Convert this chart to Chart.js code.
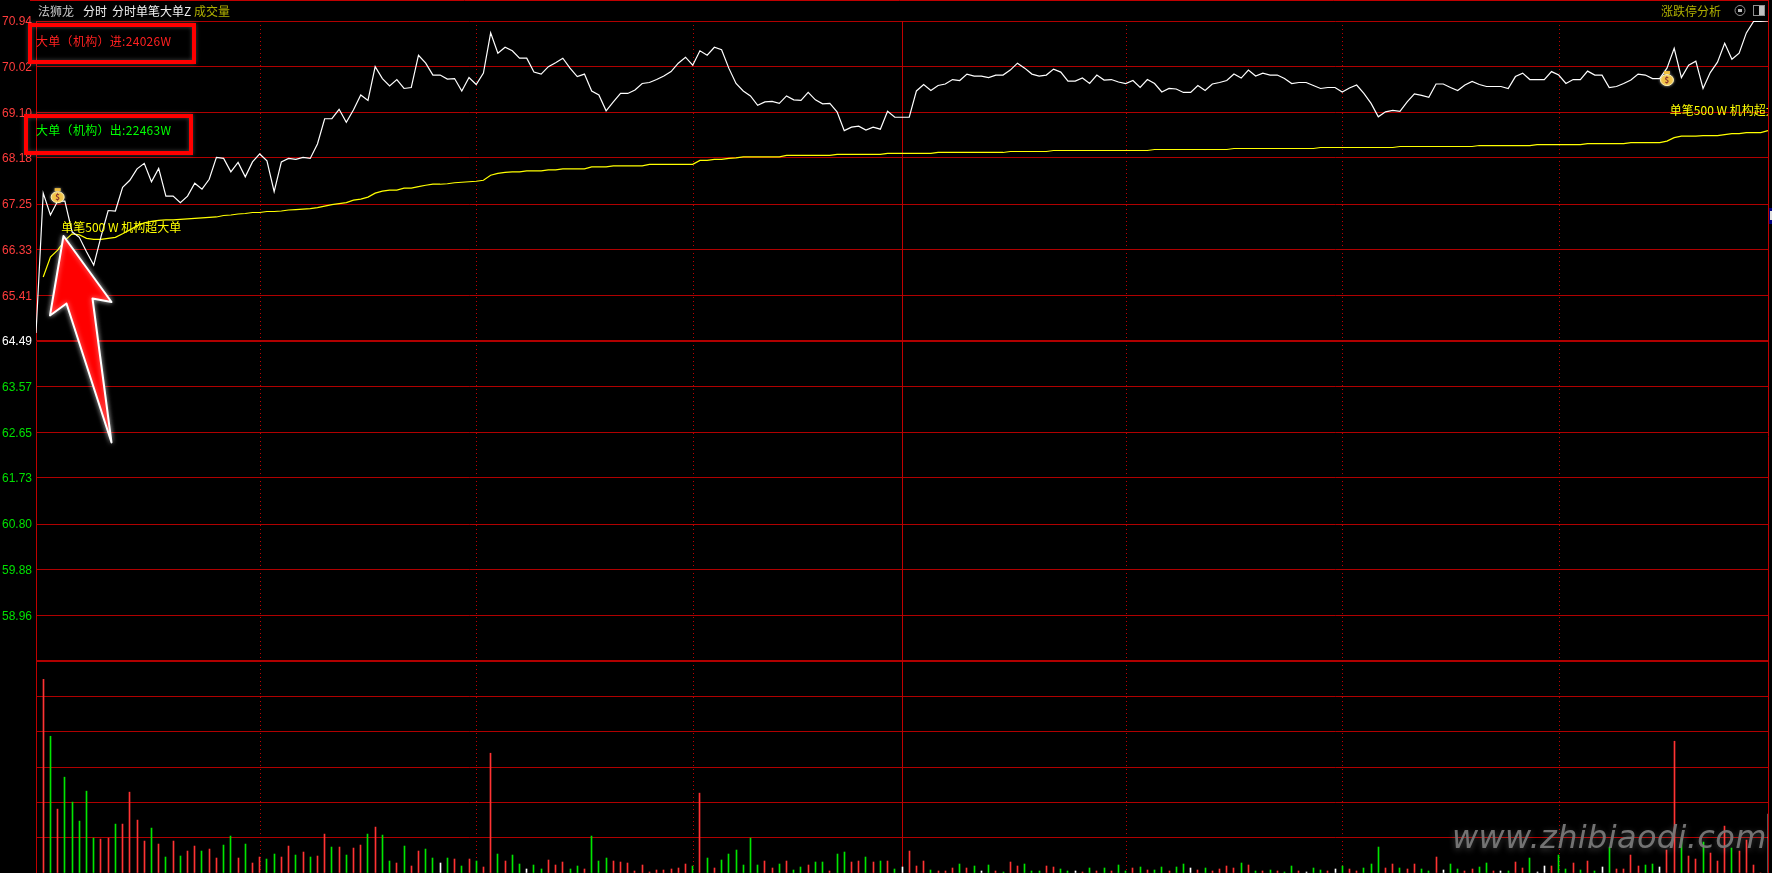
<!DOCTYPE html>
<html>
<head>
<meta charset="utf-8">
<title>法狮龙 分时</title>
<script src="https://cdn.jsdelivr.net/npm/chart.js@4/dist/chart.umd.min.js"></script>
<style>
  html, body { margin: 0; padding: 0; background: #000; overflow: hidden; }
  #box { width: 1772px; height: 873px; }
</style>
</head>
<body>
<div id="box"><canvas id="chartFenshi"></canvas></div>
<script>
// price line, one value per minute, index 0..240
const priceLine = [
  64.65,67.47,67.03,67.31,67.31,66.69,66.58,66.29,66.02,66.59,
  67.12,67.11,67.59,67.73,67.96,68.07,67.70,67.97,67.41,67.41,
  67.28,67.41,67.67,67.55,67.75,68.19,68.17,67.90,68.09,67.80,
  68.10,68.26,68.12,67.50,68.10,68.17,68.15,68.19,68.17,68.46,
  68.97,68.97,69.16,68.90,69.15,69.45,69.34,70.02,69.78,69.63,
  69.76,69.58,69.60,70.25,70.09,69.85,69.85,69.77,69.78,69.53,
  69.80,69.66,69.89,70.70,70.29,70.41,70.34,70.19,70.19,69.91,
  69.87,70.02,70.10,70.19,69.99,69.82,69.87,69.53,69.45,69.13,
  69.31,69.48,69.48,69.55,69.68,69.70,69.76,69.83,69.92,70.09,
  70.21,70.05,70.34,70.25,70.41,70.36,69.99,69.68,69.53,69.43,
  69.24,69.31,69.32,69.28,69.43,69.35,69.34,69.50,69.35,69.27,
  69.28,69.11,68.73,68.80,68.82,68.74,68.80,68.76,69.12,69.00,
  69.00,69.00,69.53,69.66,69.54,69.64,69.67,69.76,69.74,69.87,
  69.83,69.83,69.80,69.85,69.85,69.95,70.09,69.99,69.87,69.83,
  69.85,69.97,69.91,69.73,69.73,69.79,69.68,69.85,69.75,69.76,
  69.71,69.68,69.74,69.60,69.76,69.68,69.51,69.58,69.57,69.50,
  69.50,69.64,69.54,69.67,69.70,69.74,69.87,69.79,69.95,69.83,
  69.89,69.85,69.85,69.78,69.68,69.70,69.70,69.64,69.58,69.60,
  69.60,69.51,69.59,69.65,69.48,69.28,69.01,69.11,69.14,69.12,
  69.31,69.47,69.44,69.40,69.67,69.67,69.60,69.54,69.65,69.72,
  69.66,69.62,69.62,69.62,69.58,69.82,69.89,69.76,69.76,69.76,
  69.92,69.85,69.68,69.76,69.76,69.93,69.85,69.85,69.60,69.62,
  69.68,69.75,69.87,69.85,69.78,69.78,69.99,70.39,69.80,70.05,
  70.13,69.58,69.90,70.11,70.49,70.17,70.29,70.70,70.93,70.93,
  70.94
];

// average line starts one minute later, so index 0 is empty
const avgLine = [
  null,65.78,66.18,66.32,66.52,66.65,66.63,66.56,66.54,66.54,
  66.56,66.58,66.65,66.73,66.81,66.87,66.90,66.92,66.93,66.93,
  66.94,66.95,66.96,66.97,66.98,66.99,67.02,67.03,67.05,67.06,
  67.08,67.08,67.10,67.10,67.11,67.13,67.14,67.15,67.16,67.18,
  67.21,67.24,67.26,67.28,67.33,67.35,67.39,67.47,67.51,67.53,
  67.53,67.57,67.57,67.60,67.63,67.65,67.65,67.66,67.68,67.69,
  67.70,67.71,67.73,67.83,67.87,67.89,67.90,67.90,67.92,67.92,
  67.92,67.94,67.94,67.96,67.96,67.96,67.96,68.00,68.00,68.00,
  68.02,68.02,68.02,68.02,68.02,68.05,68.05,68.05,68.05,68.05,
  68.05,68.05,68.13,68.13,68.15,68.15,68.17,68.18,68.20,68.20,
  68.20,68.20,68.20,68.20,68.23,68.23,68.23,68.23,68.23,68.23,
  68.23,68.25,68.25,68.25,68.25,68.25,68.25,68.25,68.27,68.27,
  68.27,68.27,68.27,68.27,68.27,68.29,68.29,68.29,68.29,68.29,
  68.29,68.29,68.29,68.29,68.29,68.31,68.31,68.31,68.31,68.31,
  68.31,68.33,68.33,68.33,68.33,68.33,68.33,68.33,68.33,68.33,
  68.33,68.33,68.33,68.33,68.33,68.35,68.35,68.35,68.35,68.35,
  68.35,68.35,68.35,68.35,68.35,68.35,68.37,68.37,68.37,68.37,
  68.37,68.37,68.37,68.37,68.37,68.37,68.37,68.37,68.39,68.39,
  68.39,68.39,68.39,68.39,68.39,68.39,68.39,68.39,68.39,68.41,
  68.41,68.41,68.41,68.41,68.41,68.41,68.41,68.41,68.41,68.41,
  68.43,68.43,68.43,68.43,68.43,68.43,68.43,68.43,68.45,68.45,
  68.45,68.45,68.45,68.45,68.45,68.47,68.47,68.47,68.47,68.47,
  68.47,68.49,68.49,68.49,68.49,68.49,68.52,68.59,68.62,68.62,
  68.62,68.63,68.63,68.63,68.65,68.67,68.67,68.69,68.69,68.69,
  68.73
];

// volume in axis units (no labels on this axis), index 1..240
const volumes = [
  194,137,64,96,71,52,82,35,34,35,49,49,81,53,32,45,29,16,32,17,
  22,27,22,24,15,28,37,15,29,10,16,14,19,16,27,18,21,16,17,39,
  26,26,18,25,28,39,46,38,12,10,27,7,22,24,15,10,15,14,7,14,
  12,6,120,19,12,18,9,4,8,4,13,8,11,4,7,4,37,12,15,12,
  11,10,2,8,1,3,3,4,5,9,7,80,15,5,13,19,23,8,35,8,
  12,5,9,12,3,6,8,11,11,2,19,21,11,12,16,11,12,12,4,6,
  22,7,12,3,2,2,5,9,5,7,2,8,2,1,11,7,9,2,2,7,
  6,4,2,2,1,5,2,5,2,8,2,5,6,3,3,6,2,6,9,5,
  3,5,2,4,7,5,10,8,2,2,3,2,1,7,2,1,5,3,2,4,
  7,4,2,5,9,26,5,9,5,4,9,4,2,16,3,9,4,2,4,6,
  10,2,2,2,11,5,15,1,7,7,18,4,10,3,12,2,6,26,4,4,
  18,7,8,9,6,23,132,35,17,14,31,20,12,47,25,22,33,8,0,59
];
// u = up (red), d = down (green), f = flat (white)
const volMoves = [
  "u","d","u","d","d","d","d","d","u","u","d","u","u","u","u","d","u","d","u","d",
  "u","u","d","u","u","d","d","u","d","u","u","d","d","u","u","d","u","d","u","u",
  "d","u","d","u","u","d","u","d","d","u","d","u","u","d","d","f","d","u","d","u",
  "d","u","u","d","u","d","d","f","d","d","u","u","u","d","d","u","d","d","d","u",
  "u","u","u","u","u","u","u","u","u","u","d","u","d","u","d","d","d","d","d","d",
  "u","u","d","u","d","d","u","d","d","u","d","d","u","u","d","u","d","u","d","f",
  "u","u","u","d","u","u","u","d","u","d","f","d","u","d","u","u","d","d","d","u",
  "u","d","d","f","u","d","u","d","u","d","d","u","d","u","d","d","u","d","d","f",
  "u","d","u","u","u","u","d","u","d","u","d","u","d","d","u","f","d","d","u","f",
  "d","u","u","d","d","d","u","u","d","u","u","d","d","u","f","d","d","u","u","d",
  "d","u","f","d","u","u","d","f","f","u","d","d","u","d","u","d","f","d","u","u",
  "u","u","d","d","f","u","u","d","u","u","d","u","u","u","d","u","u","u","u","f"
];

// y axis tick labels
const priceTicks = [70.94,70.02,69.10,68.18,67.25,66.33,65.41,64.49,63.57,62.65,61.73,60.80,59.88,58.96,58.04];
const preClose = 64.49;
const priceBottom = 58.04;
const volTicks = [0,35.4,70.8,106.2,141.6,177,212.4];

// session lines on the minute axis
const halfHourLines = [31,61,91,151,181,211];
const lunchLine = 120;

// money bag markers and signal labels
const bagMinutes = [3,226];
const bagPrices = [67.43,69.79];
const signalText = "单笔500 W 机构超大单";
const signalMinutes = [3.5,226.4];
const signalPrices = [66.77,69.14];

const inLabel = "大单（机构）进:24026W";
const outLabel = "大单（机构）出:22463W";

const RED = "#ff3333", GREEN = "#00e600", WHITE = "#ffffff", YELLOW = "#ffff00";
const OLIVE = "#b0b000", GRID = "#b00000", EDGE = "#c00000";
const CJK = '"Noto Sans CJK SC", "Liberation Sans", sans-serif';

const volPoints = volumes.map((v, i) => ({ x: i + 1, y: v }));
const volColors = volMoves.map(m => m === "u" ? RED : m === "d" ? GREEN : WHITE);

function drawBag(ctx, x, y) {
  ctx.save();
  ctx.shadowColor = "rgba(255,255,255,0.55)";
  ctx.shadowBlur = 3;
  ctx.fillStyle = "#f0c040";
  ctx.strokeStyle = "#fff2b0";
  ctx.lineWidth = 1;
  ctx.beginPath();
  ctx.ellipse(x, y + 2, 6.5, 5.5, 0, 0, Math.PI * 2);
  ctx.fill();
  ctx.stroke();
  ctx.fillRect(x - 3, y - 7, 6, 3);
  ctx.shadowBlur = 0;
  ctx.fillStyle = "#8a2f2f";
  ctx.font = "bold 8px " + CJK;
  ctx.textAlign = "center";
  ctx.textBaseline = "middle";
  ctx.fillText("$", x, y + 2);
  ctx.restore();
}

// frame, half hour lines and 1px bars on whole pixels
const sessionPlugin = {
  id: "sessionLines",
  beforeDatasetsDraw(c) {
    const { ctx, chartArea: a, scales: { x } } = c;
    ctx.save();
    ctx.strokeStyle = "#c00000";
    ctx.lineWidth = 1;
    ctx.setLineDash([1, 3]);
    halfHourLines.forEach(m => {
      const px = Math.round(x.getPixelForValue(m)) + 0.5;
      ctx.beginPath(); ctx.moveTo(px, a.top); ctx.lineTo(px, a.bottom); ctx.stroke();
    });
    ctx.setLineDash([]);
    const px = Math.round(x.getPixelForValue(lunchLine)) + 0.5;
    ctx.beginPath(); ctx.moveTo(px, a.top); ctx.lineTo(px, a.bottom); ctx.stroke();
    // outer frame
    ctx.strokeStyle = EDGE;
    ctx.beginPath();
    ctx.moveTo(30, 0.5); ctx.lineTo(a.right + 0.5, 0.5);
    ctx.moveTo(a.right + 0.5, 0); ctx.lineTo(a.right + 0.5, a.bottom);
    ctx.stroke();
    ctx.restore();
  },
  beforeDatasetDraw(c, args) {
    if (args.meta.type !== "bar") return;
    args.meta.data.forEach(b => { b.x = Math.floor(b.x) + 0.5; });
  }
};

// texts and hand drawn marks sitting on top of the chart
const overlayPlugin = {
  id: "overlay",
  afterDraw(c) {
    const { ctx, scales: { x, yPrice } } = c;
    ctx.save();
    ctx.textBaseline = "middle";
    ctx.textAlign = "left";
    ctx.font = "12px " + CJK;

    // header row
    ctx.fillStyle = "#c8c8c8"; ctx.fillText("法狮龙", 38, 11);
    ctx.fillStyle = "#f0f0f0"; ctx.fillText("分时", 83, 11);
    ctx.fillText("分时单笔大单Z", 112, 11);
    ctx.fillStyle = OLIVE; ctx.fillText("成交量", 194, 11);
    ctx.fillText("涨跌停分析", 1661, 11);

    // two small buttons, top right
    ctx.strokeStyle = "#909090";
    ctx.lineWidth = 1;
    ctx.beginPath(); ctx.arc(1740, 10.5, 5, 0, Math.PI * 2); ctx.stroke();
    ctx.fillStyle = "#c0c0c0"; ctx.fillRect(1738, 9, 4, 3);
    ctx.strokeRect(1753.5, 5.5, 11, 10);
    ctx.fillRect(1759, 6, 5, 9);

    // big order totals
    ctx.letterSpacing = "0.3px";
    ctx.fillStyle = "#ff2020"; ctx.fillText(inLabel, 36, 41);
    ctx.fillStyle = "#00ff00"; ctx.fillText(outLabel, 36, 130);
    ctx.letterSpacing = "0px";

    // signal labels, second one is cut by the right edge
    ctx.save();
    ctx.beginPath(); ctx.rect(c.chartArea.left, 0, c.chartArea.width, 873); ctx.clip();
    ctx.fillStyle = YELLOW;
    signalMinutes.forEach((m, i) => {
      ctx.fillText(signalText, x.getPixelForValue(m), yPrice.getPixelForValue(signalPrices[i]));
    });
    ctx.restore();

    bagMinutes.forEach((m, i) => drawBag(ctx, x.getPixelForValue(m), yPrice.getPixelForValue(bagPrices[i])));

    // red boxes
    ctx.shadowColor = "rgba(255,255,255,0.25)";
    ctx.shadowBlur = 4;
    ctx.strokeStyle = "#ff0000";
    ctx.lineWidth = 4;
    ctx.strokeRect(30, 25, 164, 37);
    ctx.strokeRect(26, 116, 165, 37);

    // arrow
    ctx.shadowColor = "rgba(255,255,255,0.6)";
    ctx.shadowBlur = 5;
    ctx.fillStyle = "#ff0000";
    ctx.strokeStyle = "#ffffff";
    ctx.lineWidth = 2;
    ctx.lineJoin = "round";
    ctx.beginPath();
    ctx.moveTo(63.5, 236);
    ctx.lineTo(111.5, 302);
    ctx.lineTo(92.5, 298.5);
    ctx.lineTo(111.5, 442.5);
    ctx.lineTo(66.5, 303.5);
    ctx.lineTo(50, 315.5);
    ctx.closePath();
    ctx.fill();
    ctx.stroke();

    // small tag on the right edge
    ctx.shadowBlur = 0;
    ctx.fillStyle = "#000080";
    ctx.fillRect(1769, 208, 3, 16);
    ctx.fillStyle = "#e0e0e0";
    ctx.fillRect(1770, 211, 2, 9);

    // watermark
    ctx.shadowColor = "rgba(255,255,255,0.25)";
    ctx.shadowBlur = 6;
    ctx.shadowOffsetY = 2;
    ctx.fillStyle = "rgba(120,120,120,0.95)";
    ctx.font = 'italic 32px "DejaVu Sans", sans-serif';
    ctx.letterSpacing = "0.35px";
    ctx.fillText("www.zhibiaodi.com", 1452, 840);
    ctx.restore();
  }
};

new Chart(document.getElementById("chartFenshi").getContext("2d"), {
  data: {
    datasets: [
      {
        type: "bar", label: "成交量", data: volPoints, xAxisID: "x", yAxisID: "yVol",
        backgroundColor: volColors, barThickness: 1, borderWidth: 0, order: 3
      },
      {
        type: "line", label: "均价", data: avgLine.map((v, i) => ({ x: i, y: v })), xAxisID: "x", yAxisID: "yPrice",
        borderColor: YELLOW, borderWidth: 1.2, pointRadius: 0, tension: 0, spanGaps: false, order: 2
      },
      {
        type: "line", label: "分时", data: priceLine.map((v, i) => ({ x: i, y: v })), xAxisID: "x", yAxisID: "yPrice",
        borderColor: WHITE, borderWidth: 1.2, pointRadius: 0, tension: 0, order: 1
      }
    ]
  },
  options: {
    responsive: true,
    maintainAspectRatio: false,
    animation: false,
    events: [],
    layout: { padding: { top: 21, right: 4, left: 0, bottom: 0 } },
    plugins: { legend: { display: false }, tooltip: { enabled: false } },
    scales: {
      x: { type: "linear", min: 0, max: 240, offset: false, display: false },
      yPrice: {
        type: "linear", position: "left", stack: "panes", stackWeight: 640, weight: 2,
        min: priceBottom, max: priceTicks[0],
        afterBuildTicks: s => { s.ticks = priceTicks.map(v => ({ value: v })); },
        afterFit: s => { s.width = 36; s.paddingTop = 0; s.paddingBottom = 0; },
        ticks: {
          autoSkip: false, padding: 4, labelOffset: 1,
          font: { family: '"Liberation Sans", sans-serif', size: 12 },
          color: t => t.tick.value > preClose ? "#ff3c3c" : t.tick.value < preClose ? "#00e000" : WHITE,
          callback: v => v === priceBottom ? "" : v.toFixed(2)
        },
        grid: {
          drawTicks: false,
          color: GRID,
          lineWidth: t => (t.tick.value === preClose || t.tick.value === priceBottom) ? 2 : 1
        },
        border: { color: EDGE, width: 1 }
      },
      yVol: {
        type: "linear", position: "left", stack: "panes", stackWeight: 212, weight: 1,
        min: 0, max: volTicks[6],
        afterBuildTicks: s => { s.ticks = volTicks.map(v => ({ value: v })); },
        afterFit: s => { s.width = 36; s.paddingTop = 0; s.paddingBottom = 0; },
        ticks: { display: false },
        grid: { drawTicks: false, color: GRID, lineWidth: 1 },
        border: { color: EDGE, width: 1 }
      }
    }
  },
  plugins: [sessionPlugin, overlayPlugin]
});
</script>
</body>
</html>
